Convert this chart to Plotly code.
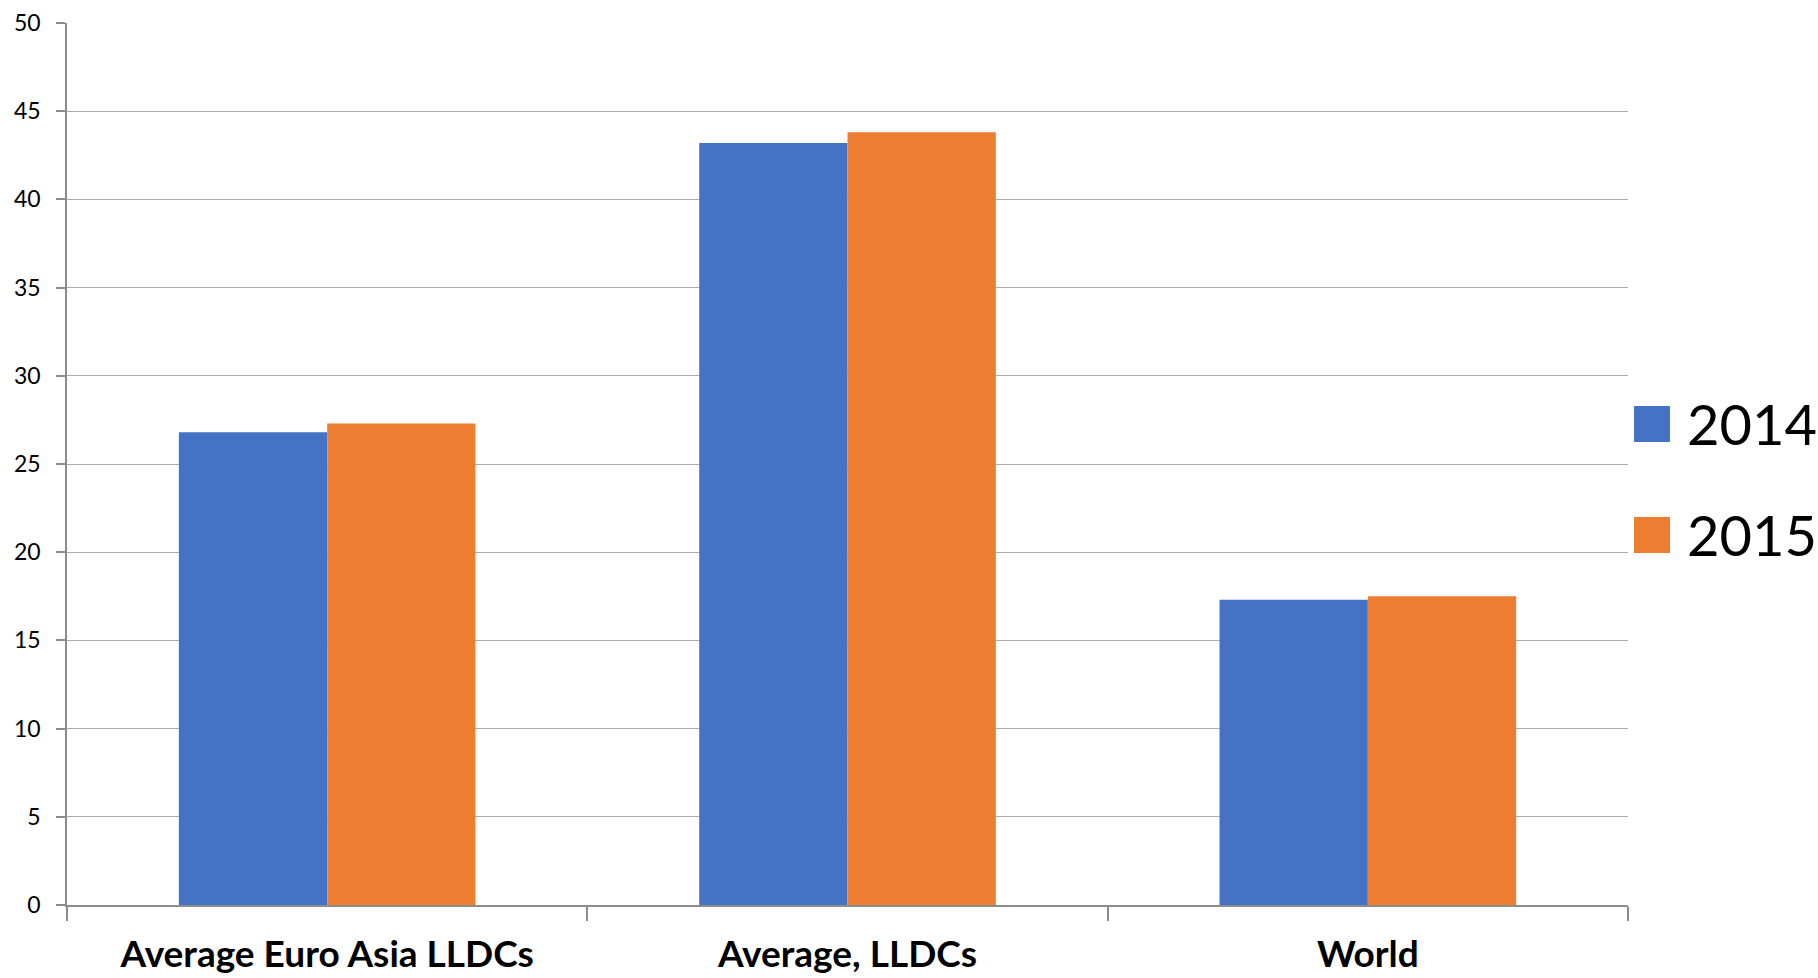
import plotly.graph_objects as go

# Chart data
categories = ["Average Euro Asia LLDCs", "Average, LLDCs", "World"]
series_names = ["2014", "2015"]
values_2014 = [26.8, 43.2, 17.3]
values_2015 = [27.3, 43.8, 17.5]
y_ticks = [0, 5, 10, 15, 20, 25, 30, 35, 40, 45, 50]

colors = ["#4472C4", "#ED7D31"]
grid_color = "#ABABAB"
axis_color = "#8C8C8C"

W, H = 1818, 978
M_L, M_R, M_T, M_B = 67, 190, 23, 73
plot_w = W - M_L - M_R
plot_h = H - M_T - M_B

fig = go.Figure()
for name, vals, col in zip(series_names, [values_2014, values_2015], colors):
    fig.add_trace(go.Bar(
        x=categories, y=vals, name=name,
        marker=dict(color=col, line=dict(width=0)),
        showlegend=False,
    ))

# Legend drawn as large swatches with text beside them
def px_x(px):
    return (px - M_L) / plot_w

def px_y(py):
    return (H - M_B - py) / plot_h

legend_rows = [(406, 442), (517, 553)]
for name, col, (top, bot) in zip(series_names, colors, legend_rows):
    fig.add_shape(type="rect", xref="paper", yref="paper",
                  x0=px_x(1634), x1=px_x(1670), y0=px_y(bot), y1=px_y(top),
                  fillcolor=col, line=dict(width=0))
    fig.add_annotation(xref="paper", yref="paper",
                       x=px_x(1685), y=px_y((top + bot) / 2 - 1),
                       xanchor="left", yanchor="middle",
                       text=name, showarrow=False,
                       font=dict(family="Lato", size=56, color="#000000"))

fig.update_layout(
    width=W, height=H,
    margin=dict(l=M_L, r=M_R, t=M_T, b=M_B, pad=0, autoexpand=False),
    paper_bgcolor="white", plot_bgcolor="white",
    barmode="group", bargap=0.43, bargroupgap=0,
    font=dict(family="Lato", color="#000000"),
)

fig.update_xaxes(
    automargin=False,
    showline=True, linecolor=axis_color, linewidth=1.5,
    ticks="outside", tickson="boundaries", ticklen=14, tickcolor=axis_color, tickwidth=1.5,
    showgrid=False,
    tickfont=dict(family="Lato", size=37, color="#000000", weight="bold"),
    ticklabelstandoff=16,
)

fig.update_yaxes(
    automargin=False,
    range=[0, 50], tickvals=y_ticks,
    showline=True, linecolor=axis_color, linewidth=1.5,
    ticks="outside", ticklen=9, tickcolor=axis_color, tickwidth=1.5,
    showgrid=True, gridcolor=grid_color, gridwidth=1.3,
    zeroline=False,
    tickfont=dict(family="Lato", size=23, color="#000000"),
    ticklabelstandoff=11,
)

fig.write_html("out.html")
